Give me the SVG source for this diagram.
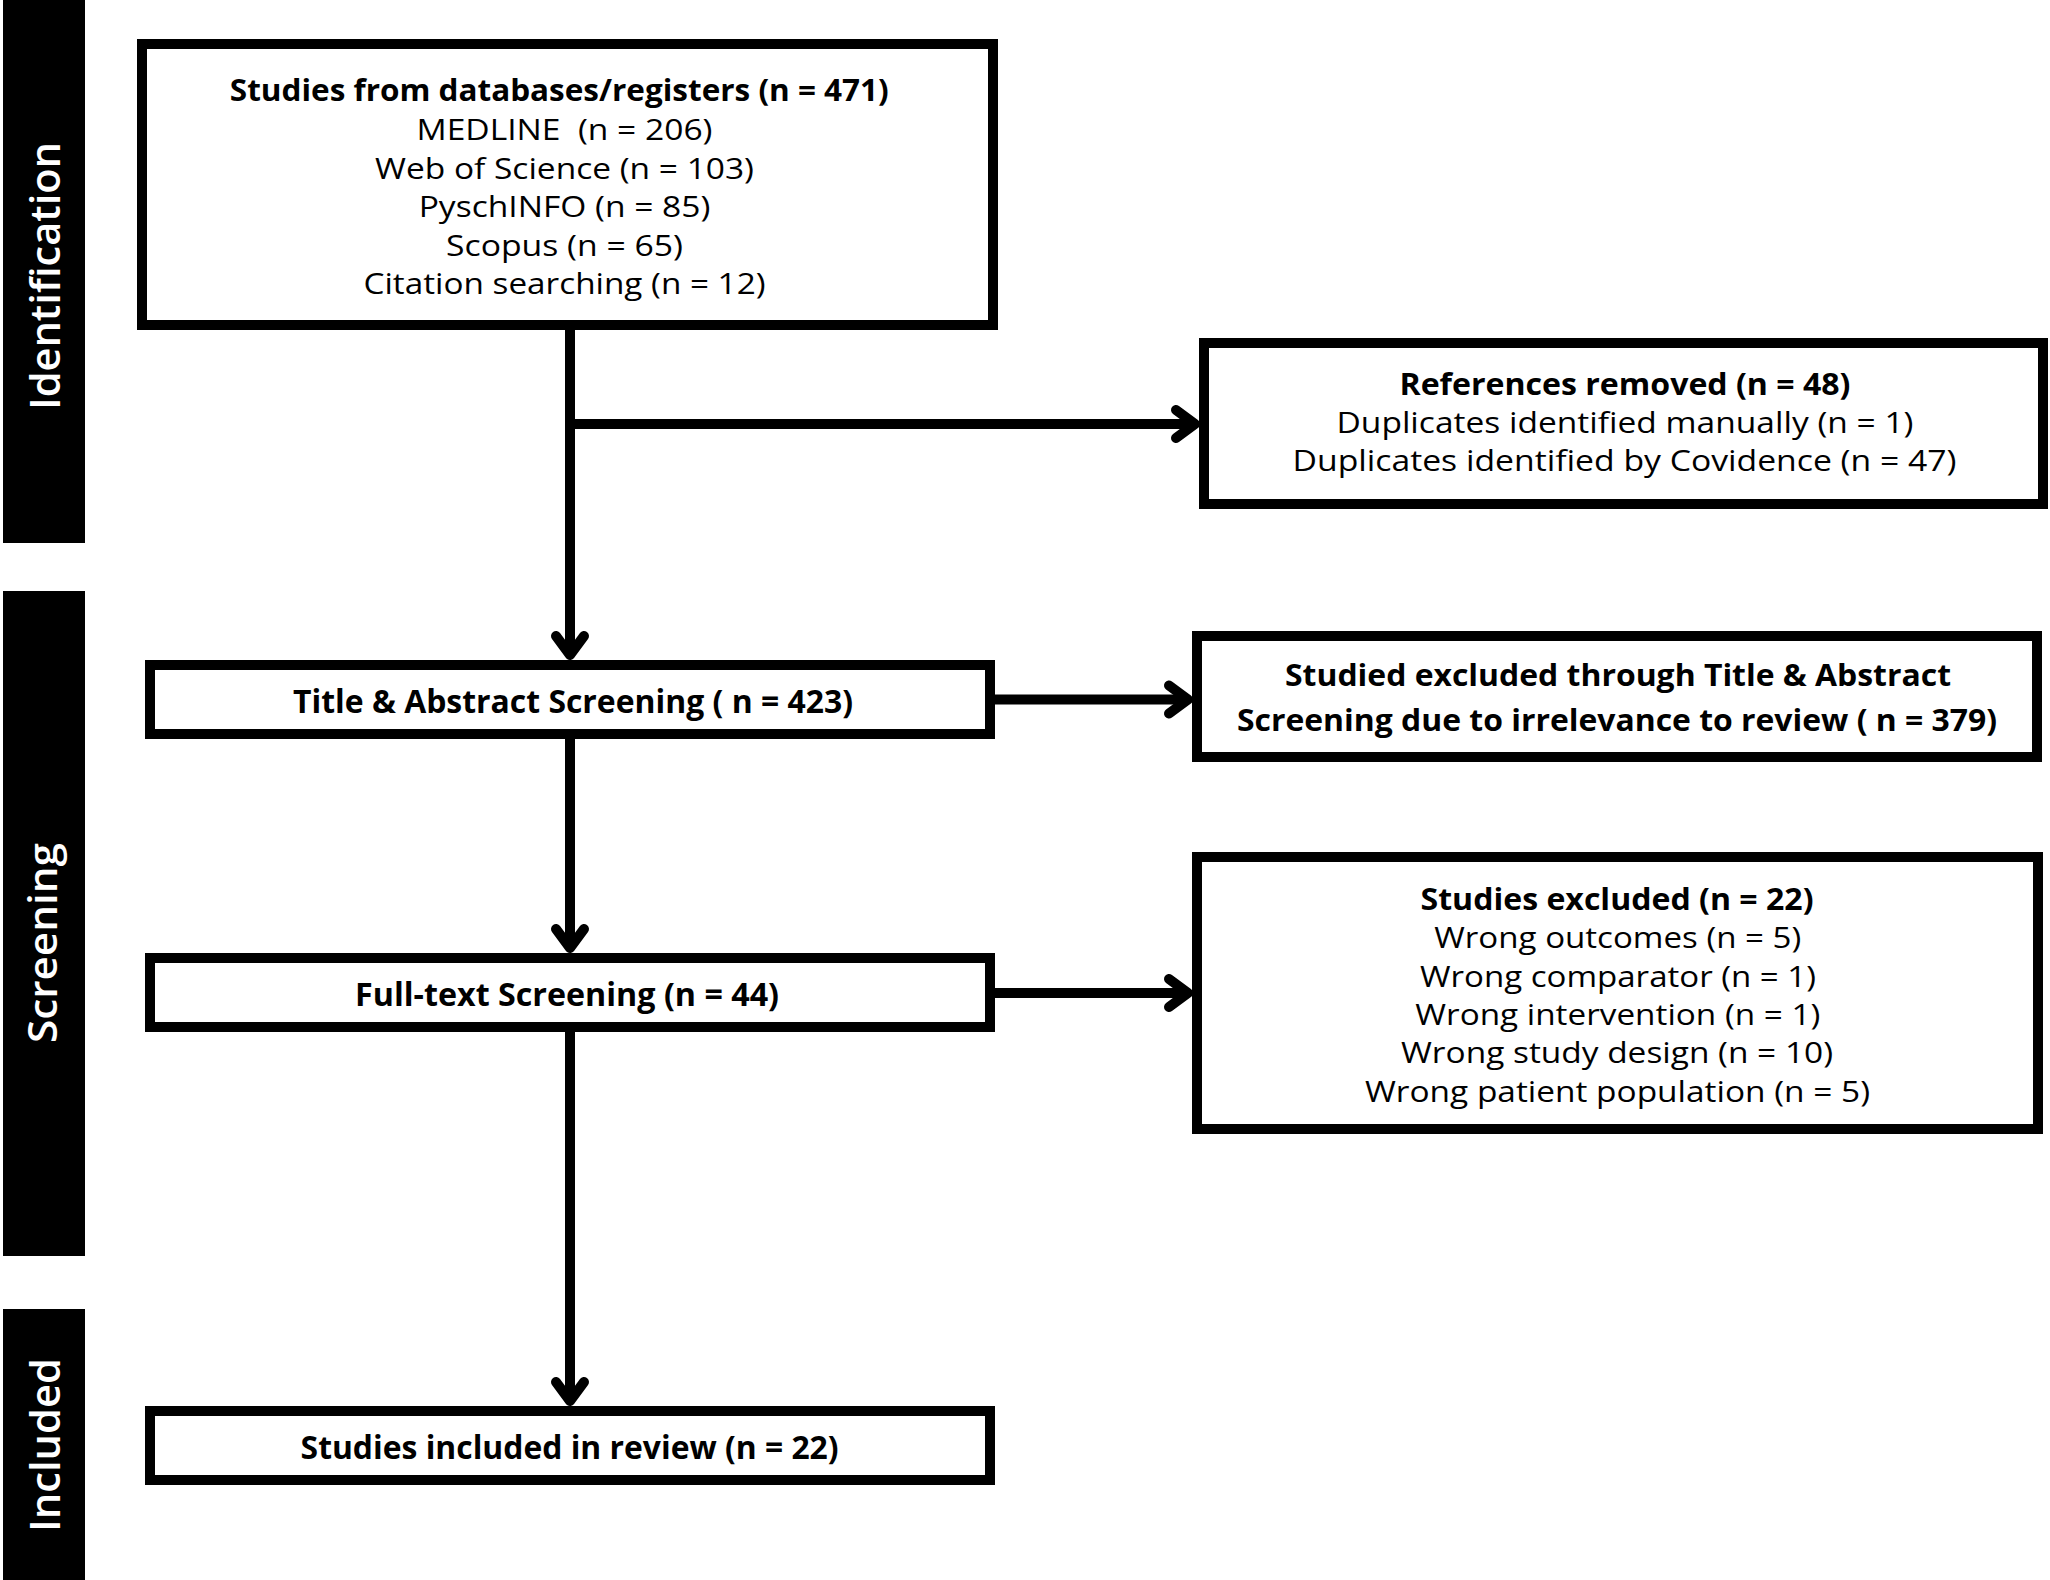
<svg xmlns="http://www.w3.org/2000/svg" width="2050" height="1580" viewBox="0 0 2050 1580">
<style>
  .box{fill:#fff;stroke:#000;stroke-width:10}
  .bar{fill:#000}
  text{font-family:"Open Sans","Noto Sans","Liberation Sans",sans-serif;fill:#000;text-anchor:middle}
  .t30{font-size:30px}
  .t29{font-size:29.5px}
  .t32{font-size:32.5px}
  .b{font-weight:700}
  .lab{fill:#fff;font-weight:600}
  .con{fill:none;stroke:#000;stroke-width:10}
</style>
<defs>
  <marker id="arr" markerUnits="userSpaceOnUse" markerWidth="40" markerHeight="40" viewBox="-30 -20 40 40" refX="0" refY="0" orient="auto" overflow="visible">
    <path d="M-19,-14 L0,0 L-19,14" fill="none" stroke="#000" stroke-width="10" stroke-linecap="round" stroke-linejoin="round"/>
  </marker>
</defs>
<rect width="2050" height="1580" fill="#fff"/>

<g id="phase-identification">
  <rect class="bar" x="3" y="0" width="82" height="543"/>
  <text class="lab" font-size="42" textLength="268" lengthAdjust="spacingAndGlyphs" transform="translate(60,276) rotate(-90)">Identification</text>
</g>
<g id="phase-screening">
  <rect class="bar" x="3" y="591" width="82" height="665"/>
  <text class="lab" font-size="40" textLength="200" lengthAdjust="spacingAndGlyphs" transform="translate(57,943) rotate(-90)">Screening</text>
</g>
<g id="phase-included">
  <rect class="bar" x="3" y="1309" width="82" height="271"/>
  <text class="lab" font-size="42" textLength="174" lengthAdjust="spacingAndGlyphs" transform="translate(60,1445) rotate(-90)">Included</text>
</g>

<g id="connectors">
  <path class="con" d="M570,330 V655" marker-end="url(#arr)"/>
  <path class="con" d="M565,424 H1195" marker-end="url(#arr)"/>
  <path class="con" d="M995,699.5 H1188" marker-end="url(#arr)"/>
  <path class="con" d="M570,739 V948" marker-end="url(#arr)"/>
  <path class="con" d="M995,993 H1188" marker-end="url(#arr)"/>
  <path class="con" d="M570,1032 V1401" marker-end="url(#arr)"/>
</g>

<g id="node-identified">
  <rect class="box" x="142" y="44" width="851" height="281"/>
  <text class="t30 b" x="559.3" y="101" textLength="659" lengthAdjust="spacingAndGlyphs">Studies from databases/registers (n = 471)</text>
  <text class="t30" x="564.5" y="140" textLength="296" lengthAdjust="spacingAndGlyphs" style="white-space:pre">MEDLINE  (n = 206)</text>
  <text class="t30" x="564.5" y="178.5" textLength="379" lengthAdjust="spacingAndGlyphs">Web of Science (n = 103)</text>
  <text class="t30" x="564.5" y="217" textLength="291.6" lengthAdjust="spacingAndGlyphs">PyschINFO (n = 85)</text>
  <text class="t30" x="564.5" y="255.5" textLength="237" lengthAdjust="spacingAndGlyphs">Scopus (n = 65)</text>
  <text class="t30" x="564.5" y="294" textLength="402" lengthAdjust="spacingAndGlyphs">Citation searching (n = 12)</text>
</g>

<g id="node-removed">
  <rect class="box" x="1204" y="343" width="839" height="161"/>
  <text class="t30 b" x="1625" y="394.5" textLength="451" lengthAdjust="spacingAndGlyphs">References removed (n = 48)</text>
  <text class="t30" x="1625" y="432.6" textLength="577" lengthAdjust="spacingAndGlyphs">Duplicates identified manually (n = 1)</text>
  <text class="t30" x="1624.5" y="470.7" textLength="664" lengthAdjust="spacingAndGlyphs">Duplicates identified by Covidence (n = 47)</text>
</g>

<g id="node-title-abstract">
  <rect class="box" x="150" y="665" width="840" height="69"/>
  <text class="t32 b" x="573" y="712.7" textLength="560" lengthAdjust="spacingAndGlyphs">Title &amp; Abstract Screening ( n = 423)</text>
</g>

<g id="node-excluded-ta">
  <rect class="box" x="1197" y="636" width="840" height="121"/>
  <text class="t29 b" x="1618" y="685.5" textLength="666" lengthAdjust="spacingAndGlyphs">Studied excluded through Title &amp; Abstract</text>
  <text class="t29 b" x="1617" y="730.5" textLength="760" lengthAdjust="spacingAndGlyphs">Screening due to irrelevance to review ( n = 379)</text>
</g>

<g id="node-fulltext">
  <rect class="box" x="150" y="958" width="840" height="69"/>
  <text class="t32 b" x="567" y="1006" textLength="424" lengthAdjust="spacingAndGlyphs">Full-text Screening (n = 44)</text>
</g>

<g id="node-excluded-ft">
  <rect class="box" x="1197" y="857" width="841" height="272"/>
  <text class="t30 b" x="1617" y="910" textLength="393" lengthAdjust="spacingAndGlyphs">Studies excluded (n = 22)</text>
  <text class="t30" x="1617.8" y="948.3" textLength="367" lengthAdjust="spacingAndGlyphs">Wrong outcomes (n = 5)</text>
  <text class="t30" x="1618" y="986.7" textLength="396" lengthAdjust="spacingAndGlyphs">Wrong comparator (n = 1)</text>
  <text class="t30" x="1617.8" y="1025" textLength="405" lengthAdjust="spacingAndGlyphs">Wrong intervention (n = 1)</text>
  <text class="t30" x="1617" y="1063.3" textLength="432" lengthAdjust="spacingAndGlyphs">Wrong study design (n = 10)</text>
  <text class="t30" x="1617.5" y="1101.7" textLength="505" lengthAdjust="spacingAndGlyphs">Wrong patient population (n = 5)</text>
</g>

<g id="node-included">
  <rect class="box" x="150" y="1411" width="840" height="69"/>
  <text class="t32 b" x="569.6" y="1459" textLength="538" lengthAdjust="spacingAndGlyphs">Studies included in review (n = 22)</text>
</g>
</svg>
